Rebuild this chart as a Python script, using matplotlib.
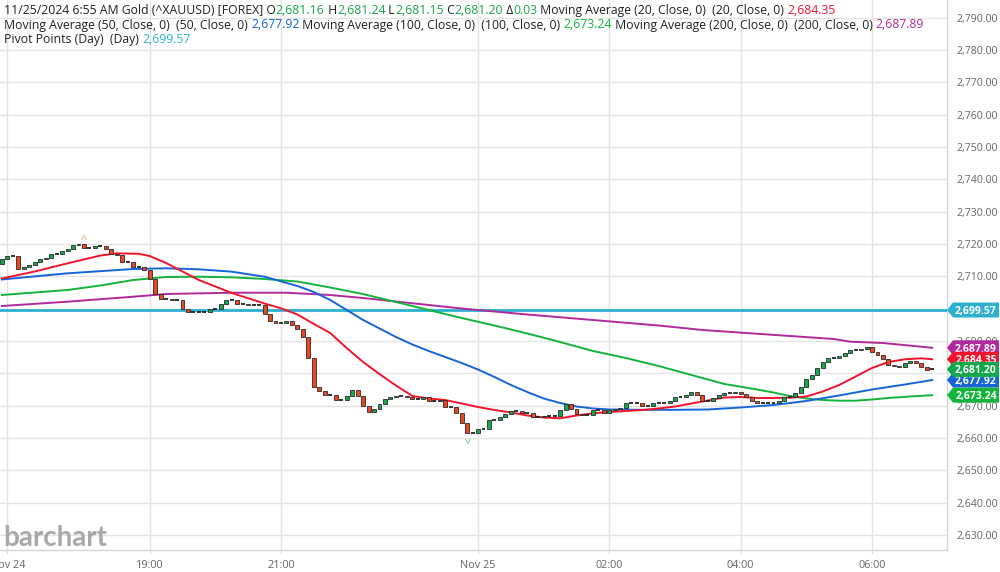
import matplotlib
matplotlib.use("Agg")
import numpy as np
import matplotlib.pyplot as plt
from matplotlib.patches import Polygon

# ---- data (5-minute bars, compressed time axis: x = bar index) ----
first_open = 2713.80
closes = [
    2715.25, 2716.27, 2716.27, 2712.35, 2712.78, 2713.49, 2714.42, 2715.34, 2715.65, 2716.89,
    2716.89, 2717.82, 2718.44, 2719.67, 2719.98, 2718.75, 2718.75, 2719.36, 2719.36, 2718.34,
    2716.89, 2716.49, 2714.32, 2714.32, 2712.96, 2712.96, 2711.85, 2709.07, 2704.52, 2703.07,
    2703.07, 2702.57, 2702.57, 2699.79, 2698.86, 2698.86, 2698.86, 2698.86, 2699.98, 2699.98,
    2701.43, 2702.67, 2702.67, 2701.43, 2701.43, 2701.12, 2701.12, 2701.12, 2698.34, 2696.08,
    2695.50, 2695.50, 2696.08, 2695.03, 2693.79, 2691.13, 2684.64, 2675.86, 2674.62, 2673.20,
    2673.20, 2671.75, 2671.75, 2672.98, 2674.84, 2672.98, 2669.89, 2667.94, 2669.06, 2670.51,
    2672.15, 2672.77, 2673.08, 2673.08, 2672.77, 2671.96, 2671.96, 2672.77, 2671.53, 2671.53,
    2671.75, 2669.49, 2669.49, 2667.63, 2664.73, 2661.63, 2661.63, 2662.87, 2662.87, 2665.56,
    2665.56, 2666.40, 2667.42, 2668.44, 2668.44, 2667.82, 2667.82, 2666.40, 2666.40, 2666.89,
    2666.89, 2666.89, 2668.65, 2670.51, 2668.96, 2667.42, 2667.01, 2667.01, 2668.56, 2668.56,
    2667.82, 2668.65, 2668.96, 2669.27, 2670.97, 2670.97, 2670.97, 2669.89, 2669.89, 2670.73,
    2670.73, 2670.73, 2671.53, 2672.77, 2672.77, 2673.38, 2674.22, 2673.20, 2671.53, 2671.53,
    2672.46, 2673.14, 2673.91, 2673.91, 2674.31, 2673.60, 2672.58, 2671.53, 2670.73, 2670.73,
    2670.73, 2670.73, 2671.44, 2672.77, 2672.77, 2673.82, 2675.86, 2678.15, 2679.38, 2681.64,
    2683.50, 2684.73, 2684.73, 2685.35, 2686.18, 2687.21, 2687.21, 2687.51, 2688.23, 2686.59,
    2685.57, 2684.52, 2682.66, 2682.26, 2682.05, 2683.09, 2683.90, 2683.09, 2681.86, 2681.16,
    2681.20,
]

ma20_idx = [0, 6, 12, 18, 21, 25, 27, 30, 33, 36, 42, 48, 51, 54, 57, 60, 63, 66, 69, 72, 75, 78,
            81, 84, 87, 90, 93, 96, 99, 102, 105, 108, 111, 114, 117, 120, 123, 126, 129, 132,
            135, 138, 141, 144, 147, 150, 153, 156, 159, 162, 165, 168, 170]
ma20 = [2709.32, 2711.48, 2714.01, 2716.42, 2717.10, 2716.95, 2716.27, 2714.11, 2711.48, 2708.85,
        2704.83, 2701.58, 2700.10, 2698.18, 2695.25, 2692.47, 2687.80, 2683.50, 2679.77, 2676.23,
        2672.98, 2672.21, 2671.75, 2670.67, 2669.58, 2668.65, 2667.88, 2666.95, 2666.33, 2666.08,
        2666.95, 2667.63, 2668.03, 2668.34, 2668.65, 2669.12, 2669.73, 2670.67, 2671.59, 2672.52,
        2672.67, 2672.37, 2672.37, 2672.46, 2672.83, 2674.37, 2676.38, 2679.01, 2681.64, 2683.50,
        2684.33, 2684.64, 2684.35]

ma50_idx = [0, 12, 24, 30, 36, 42, 48, 54, 57, 60, 63, 66, 69, 72, 75, 78, 81, 84, 87, 90, 93, 96,
            99, 102, 105, 108, 111, 117, 123, 129, 135, 141, 147, 153, 159, 165, 170]
ma50 = [2709.01, 2710.92, 2712.25, 2712.47, 2712.16, 2711.42, 2709.87, 2707.00, 2705.14, 2702.67,
        2699.58, 2696.49, 2693.86, 2691.23, 2688.91, 2686.90, 2685.05, 2683.19, 2681.18, 2678.86,
        2676.39, 2674.22, 2672.21, 2670.82, 2669.73, 2669.12, 2668.81, 2668.71, 2668.71, 2668.81,
        2669.43, 2670.20, 2671.44, 2673.14, 2674.99, 2676.54, 2677.92]

ma100_idx = [0, 12, 18, 24, 30, 36, 42, 48, 54, 60, 66, 72, 78, 84, 90, 96, 102, 108, 114, 120,
             126, 132, 138, 141, 144, 147, 150, 153, 156, 159, 162, 166, 170]
ma100 = [2704.21, 2705.76, 2707.15, 2708.85, 2709.78, 2709.87, 2709.68, 2709.16, 2708.38, 2706.53,
         2704.51, 2702.04, 2699.57, 2697.10, 2694.78, 2692.31, 2689.68, 2686.90, 2684.73, 2682.26,
         2679.48, 2676.70, 2674.99, 2674.06, 2672.98, 2672.21, 2671.75, 2671.53, 2671.53, 2671.90,
         2672.37, 2672.83, 2673.24]

ma200_idx = [0, 12, 24, 30, 42, 52, 60, 66, 72, 84, 96, 108, 120, 128, 140, 152, 155, 161, 170]
ma200 = [2700.81, 2702.14, 2703.68, 2704.52, 2704.92, 2704.92, 2704.21, 2703.28, 2702.20, 2700.04,
         2698.18, 2696.48, 2694.78, 2693.39, 2692.00, 2690.61, 2689.77, 2689.37, 2687.89]

pivot = 2699.57

tick_idx = [1, 27, 51, 87, 111, 135, 159]
tick_labels = ["Nov 24", "19:00", "21:00", "Nov 25", "02:00", "04:00", "06:00"]

hi_idx, hi_val = 15, 2721.2
lo_idx, lo_val = 85, 2660.4

# ---- colours ----
C_UP = "#12a84c"
C_DN = "#f0431f"
C_MA20 = "#f2142c"
C_MA50 = "#1565d8"
C_MA100 = "#14b33c"
C_MA200 = "#b02a9c"
C_PIV = "#2eb0d0"
C_TXT = "#222222"
C_VAL = "#1aa64a"

plt.rcParams["font.family"] = ["Open Sans", "DejaVu Sans"]

W, H = 1000, 572
fig = plt.figure(figsize=(W / 100, H / 100), dpi=100)
ax = fig.add_axes([0, 22 / H, 947 / W, 550 / H])

# candles
opens = [first_open] + closes[:-1]
for i, (o, c) in enumerate(zip(opens, closes)):
    if abs(c - o) < 0.05:
        ax.hlines(c, i - 0.36, i + 0.36, color="#222222", lw=1.3, zorder=4)
    else:
        col = C_UP if c > o else C_DN
        ax.bar(i, abs(c - o), bottom=min(o, c), width=0.72, color=col,
               edgecolor="#2a2a2a", linewidth=0.6, zorder=4)

ax.text(hi_idx, hi_val, "^", color="#f0907a", ha="center", va="center", fontsize=8, zorder=5)
ax.text(lo_idx, lo_val, "^", color="#4cbf6a", ha="center", va="center", fontsize=8,
        rotation=180, zorder=5)

# moving averages + pivot
ax.axhline(pivot, color=C_PIV, lw=2, zorder=3)
ax.plot(ma200_idx, ma200, color=C_MA200, lw=1.4, zorder=3)
ax.plot(ma100_idx, ma100, color=C_MA100, lw=1.4, zorder=3)
ax.plot(ma50_idx, ma50, color=C_MA50, lw=1.4, zorder=3)
ax.plot(ma20_idx, ma20, color=C_MA20, lw=1.4, zorder=3)

# axes
x_left = -0.347
x_right = 172.7
ax.set_xlim(x_left, x_right)
ax.set_ylim(2630 - 15 / 3.234, 2630 + 535 / 3.234)
ax.set_yticks(np.arange(2630, 2791, 10))
ax.yaxis.set_major_formatter(matplotlib.ticker.StrMethodFormatter("{x:,.2f}"))
ax.yaxis.tick_right()
ax.set_xticks(tick_idx)
ax.set_xticklabels(tick_labels)
ax.grid(True, color="#e4e4e4", lw=1, zorder=0)
ax.set_axisbelow(True)
for s in ["left", "top"]:
    ax.spines[s].set_visible(False)
for s in ["right", "bottom"]:
    ax.spines[s].set_color("#d6d6d6")
    ax.spines[s].set_linewidth(1)
ax.tick_params(axis="y", length=0, pad=7, labelsize=7.6, labelcolor="#666666")
ax.tick_params(axis="x", length=3, color="#dddddd", pad=4, labelsize=7.8, labelcolor="#666666")

# watermark
fig.text(3 / W, 1 - 546 / H, "barchart", fontsize=20, fontweight="bold", color="#a8a8a8",
         family=["Lato", "DejaVu Sans"], ha="left", va="baseline")

# header with coloured values
renderer = fig.canvas.get_renderer()
HDR_SIZE = 8.8


def text_width(s):
    t = fig.text(0, 0, s, fontsize=HDR_SIZE)
    w = t.get_window_extent(renderer=renderer).width
    t.remove()
    return w


def header_line(pieces, x_px, base_px):
    x = x_px
    for s, col in pieces:
        fig.text(x / W, 1 - base_px / H, s, color=col, fontsize=HDR_SIZE, ha="left", va="baseline")
        x += text_width("|" + s + "|") - text_width("||")


header_line([("11/25/2024 6:55 AM Gold (^XAUUSD) [FOREX] O", C_TXT), ("2,681.16", C_VAL),
             (" H", C_TXT), ("2,681.24", C_VAL), (" L", C_TXT), ("2,681.15", C_VAL),
             (" C", C_TXT), ("2,681.20", C_VAL), (" \u0394", C_TXT), ("0.03", C_VAL),
             (" Moving Average (20, Close, 0)  (20, Close, 0) ", C_TXT), ("2,684.35", C_MA20)],
            4, 14)
header_line([("Moving Average (50, Close, 0)  (50, Close, 0) ", C_TXT), ("2,677.92", C_MA50),
             (" Moving Average (100, Close, 0)  (100, Close, 0) ", C_TXT), ("2,673.24", C_MA100),
             (" Moving Average (200, Close, 0)  (200, Close, 0) ", C_TXT), ("2,687.89", C_MA200)],
            4, 28.5)
header_line([("Pivot Points (Day)  (Day) ", C_TXT), ("2,699.57", C_PIV)], 4, 43)

# price tags on the right
tag_values = [pivot, ma200[-1], ma20[-1], ma50[-1], closes[-1], ma100[-1]]
tag_colors = [C_PIV, C_MA200, C_MA20, C_MA50, "#10a84a", C_MA100]
tag_z = [10, 11, 12, 13, 15, 14]
for v, col, z in zip(tag_values, tag_colors, tag_z):
    yd = ax.transData.transform((0, v))[1]
    yf = yd / H
    h = 7.5 / H
    pts = [(947 / W, yf), (953 / W, yf + h), (999 / W, yf + h), (999 / W, yf - h), (953 / W, yf - h)]
    fig.add_artist(Polygon(pts, closed=True, facecolor=col, edgecolor="none",
                           transform=fig.transFigure, zorder=z))
    fig.text(976 / W, yf, f"{v:,.2f}", color="white", fontsize=7.5, fontweight="bold",
             ha="center", va="center_baseline", zorder=z)

fig.savefig("out.png", dpi=100)
